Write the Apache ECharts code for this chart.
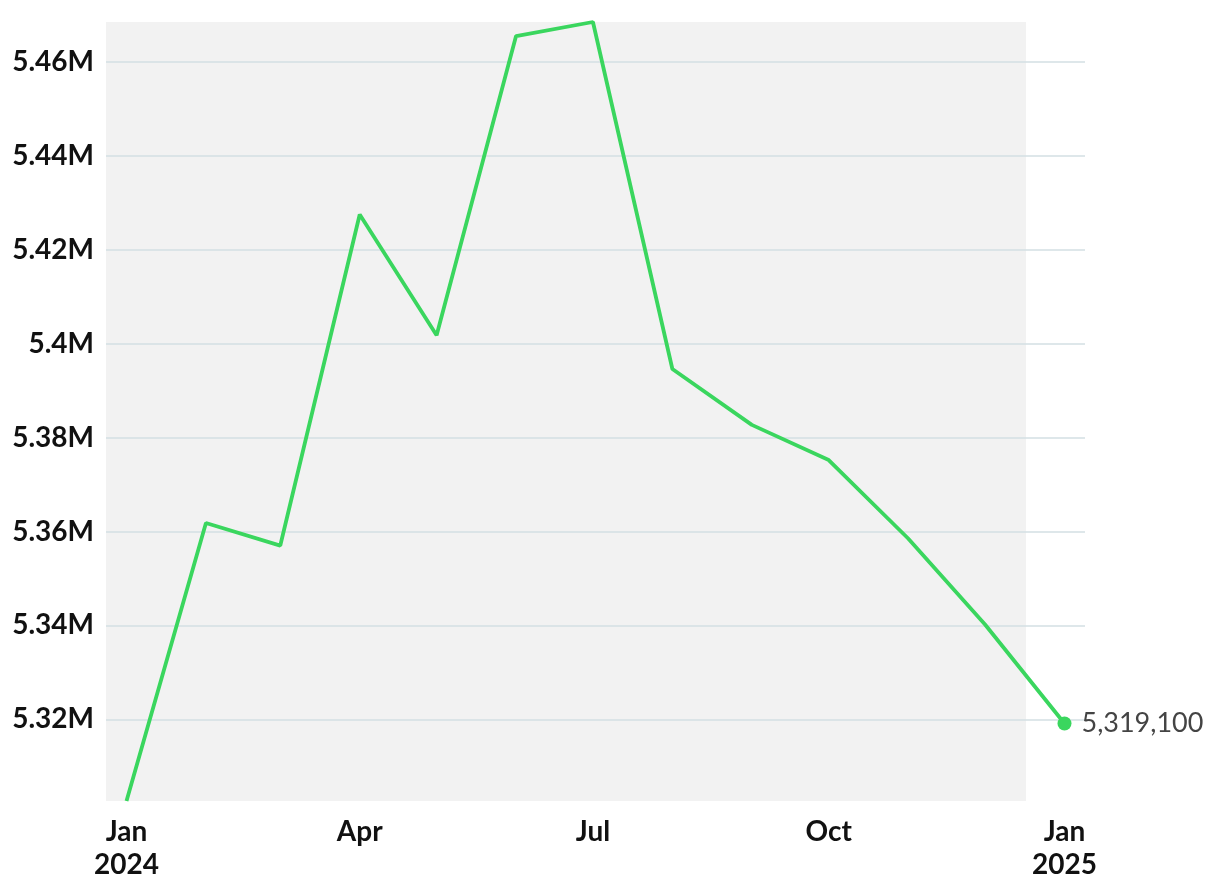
<!DOCTYPE html>
<html>
<head>
<meta charset="utf-8">
<script src="https://cdn.jsdelivr.net/npm/echarts@6/dist/echarts.min.js"></script>
<style>html,body{margin:0;padding:0;background:#fff}#c{width:1220px;height:892px}</style>
</head>
<body>
<div id="c"></div>
<script>
const months = ['2024-01-01','2024-02-01','2024-03-01','2024-04-01','2024-05-01','2024-06-01','2024-07-01','2024-08-01','2024-09-01','2024-10-01','2024-11-01','2024-12-01','2025-01-01'];
const values = [5302600, 5361800, 5357000, 5427500, 5401800, 5465500, 5468500, 5394600, 5382700, 5375200, 5358500, 5340200, 5319100];
const xTickDates = ['2024-01-01','2024-04-01','2024-07-01','2024-10-01','2025-01-01'];
const xTickLabels = ['Jan\n2024','Apr','Jul','Oct','Jan\n2025'];
const xRange = ['2023-12-24','2025-01-09'];
const shadeRange = ['2023-12-24','2024-12-17'];

function ts(s){ const p = s.split('-').map(Number); return Date.UTC(p[0], p[1]-1, p[2]); }
const tickTs = xTickDates.map(ts);
const last = values.length - 1;
const lineColor = '#3ad65e';
const fontFam = 'Lato, "Open Sans", sans-serif';

const chart = echarts.init(document.getElementById('c'), null, {renderer:'canvas'});
chart.setOption({
  animation: false,
  grid: {left: 106, right: 135, top: 22, bottom: 91, containLabel: false},
  xAxis: {
    type: 'value',
    min: ts(xRange[0]), max: ts(xRange[1]),
    axisLine: {show: false},
    axisTick: {show: false},
    splitLine: {show: false},
    axisLabel: {
      customValues: tickTs,
      formatter: function(v){ const i = tickTs.indexOf(v); return i >= 0 ? xTickLabels[i] : ''; },
      fontSize: 28, fontWeight: 'bold', color: '#111', fontFamily: fontFam,
      lineHeight: 33, margin: 14, hideOverlap: false
    }
  },
  yAxis: {
    type: 'value',
    min: 'dataMin', max: 'dataMax',
    minInterval: 20000, maxInterval: 20000,
    axisLine: {show: false},
    axisTick: {show: false},
    splitLine: {show: true, showMinLine: false, showMaxLine: false, lineStyle: {color: '#d3dfe3', width: 1.5}},
    axisLabel: {
      showMinLabel: false, showMaxLabel: false,
      formatter: function(v){ return parseFloat((v/1e6).toFixed(2)) + 'M'; },
      fontSize: 28, fontWeight: 'bold', color: '#111', fontFamily: fontFam, margin: 12
    }
  },
  series: [{
    type: 'line',
    data: months.map((m, i) => ({
      value: [ts(m), values[i]],
      label: i === last ? {show: true} : {show: false}
    })),
    showSymbol: true,
    symbol: 'circle',
    symbolSize: function(v, p){ return p.dataIndex === last ? 14 : 0; },
    itemStyle: {color: lineColor},
    lineStyle: {color: lineColor, width: 3.8},
    label: {
      position: 'right', distance: 10,
      formatter: function(p){ return p.value[1].toLocaleString('en-US'); },
      fontSize: 27, color: '#444', fontWeight: 400, fontFamily: fontFam
    },
    markArea: {
      silent: true,
      z: -1,
      itemStyle: {color: '#f2f2f2'},
      data: [[{xAxis: ts(shadeRange[0])}, {xAxis: ts(shadeRange[1])}]]
    }
  }]
});
</script>
</body>
</html>
